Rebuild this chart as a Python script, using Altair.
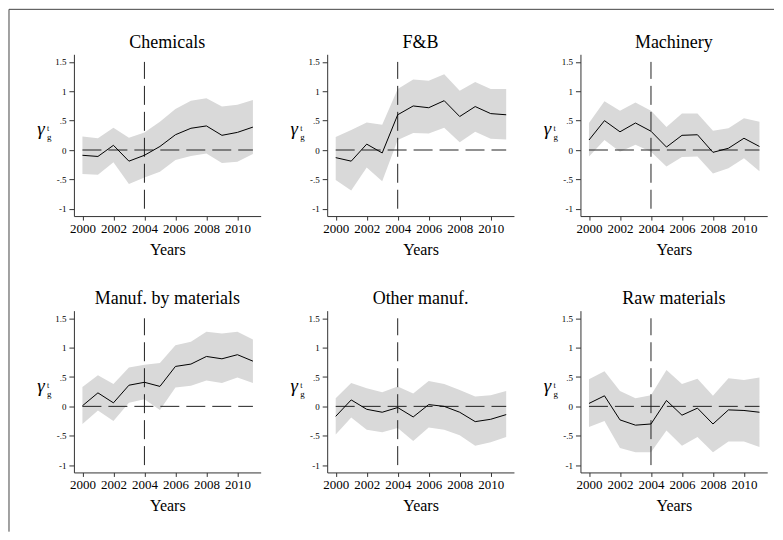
import altair as alt
import pandas as pd

# ---------------- data ----------------
years = list(range(2000, 2012))
sectors = ["Chemicals", "F&B", "Machinery", "Manuf. by materials", "Other manuf.", "Raw materials"]

chem_est = [-0.09, -0.11, 0.08, -0.19, -0.09, 0.06, 0.26, 0.37, 0.41, 0.25, 0.30, 0.39]
chem_hi = [0.23, 0.20, 0.38, 0.21, 0.30, 0.48, 0.70, 0.84, 0.88, 0.74, 0.77, 0.85]
chem_lo = [-0.41, -0.42, -0.21, -0.58, -0.47, -0.37, -0.17, -0.10, -0.06, -0.22, -0.20, -0.07]

fb_est = [-0.13, -0.19, 0.10, -0.05, 0.60, 0.75, 0.72, 0.84, 0.57, 0.74, 0.62, 0.60]
fb_hi = [0.22, 0.34, 0.47, 0.43, 1.04, 1.20, 1.18, 1.29, 1.01, 1.16, 1.04, 1.04]
fb_lo = [-0.51, -0.69, -0.30, -0.53, 0.17, 0.29, 0.28, 0.38, 0.13, 0.31, 0.19, 0.18]

mach_est = [0.17, 0.50, 0.31, 0.46, 0.32, 0.05, 0.25, 0.26, -0.04, 0.03, 0.20, 0.06]
mach_hi = [0.46, 0.83, 0.67, 0.81, 0.67, 0.39, 0.62, 0.62, 0.33, 0.37, 0.54, 0.48]
mach_lo = [-0.11, 0.17, -0.03, 0.09, -0.03, -0.28, -0.12, -0.11, -0.40, -0.31, -0.14, -0.36]

mbm_est = [0.01, 0.23, 0.06, 0.36, 0.41, 0.34, 0.68, 0.72, 0.85, 0.81, 0.88, 0.77]
mbm_hi = [0.33, 0.53, 0.38, 0.66, 0.71, 0.74, 1.04, 1.10, 1.27, 1.24, 1.27, 1.14]
mbm_lo = [-0.30, -0.07, -0.25, 0.06, 0.12, -0.06, 0.32, 0.35, 0.44, 0.40, 0.49, 0.40]

oth_est = [-0.17, 0.11, -0.05, -0.10, -0.02, -0.18, 0.03, 0.00, -0.10, -0.26, -0.22, -0.14]
oth_hi = [0.14, 0.40, 0.31, 0.24, 0.34, 0.22, 0.43, 0.38, 0.28, 0.17, 0.19, 0.26]
oth_lo = [-0.48, -0.19, -0.40, -0.44, -0.37, -0.59, -0.36, -0.40, -0.49, -0.67, -0.61, -0.52]

raw_est = [0.05, 0.18, -0.23, -0.32, -0.30, 0.10, -0.15, -0.03, -0.30, -0.06, -0.07, -0.10]
raw_hi = [0.46, 0.60, 0.26, 0.14, 0.19, 0.62, 0.38, 0.47, 0.18, 0.48, 0.45, 0.49]
raw_lo = [-0.35, -0.25, -0.71, -0.78, -0.78, -0.41, -0.67, -0.52, -0.78, -0.60, -0.60, -0.69]

series = [
    (chem_est, chem_lo, chem_hi),
    (fb_est, fb_lo, fb_hi),
    (mach_est, mach_lo, mach_hi),
    (mbm_est, mbm_lo, mbm_hi),
    (oth_est, oth_lo, oth_hi),
    (raw_est, raw_lo, raw_hi),
]

event_year = [2004]
event_span = [-1, 1.5]
zero_span = [2000, 2011]
x_ticks = [2000, 2002, 2004, 2006, 2008, 2010]
y_ticks = [-1, -0.5, 0, 0.5, 1, 1.5]
y_tick_labels = ["-1", "-.5", "0", ".5", "1", "1.5"]
x_title = "Years"

# ---------------- style ----------------
SERIF = "Liberation Serif"
W, H = 187, 162
BAND = "#d9d9d9"
AXIS = "#333333"
DASH = [19, 7]

label_expr = ""
for v, s in zip(y_ticks, y_tick_labels):
    label_expr += f"datum.value == {v} ? '{s}' : "
label_expr += "''"

xs = alt.Scale(domain=[1999.45, 2011.5], nice=False, zero=False)
ys = alt.Scale(domain=[-1.125, 1.63], nice=False, zero=False)

xaxis = alt.Axis(values=x_ticks, format="d", title=x_title, grid=False,
                 labelFont=SERIF, labelFontSize=13, labelColor="black",
                 titleFont=SERIF, titleFontSize=16, titleFontWeight="normal",
                 titleColor="black", titlePadding=6,
                 tickSize=4, labelPadding=2, domainColor=AXIS, tickColor=AXIS,
                 labelFlush=False, labelOverlap=False)
yaxis = alt.Axis(values=y_ticks, labelExpr=label_expr, title=None, grid=False,
                 labelFont=SERIF, labelFontSize=9, labelColor="black",
                 tickSize=5, labelPadding=3, domainColor=AXIS, tickColor=AXIS,
                 labelFlush=False, labelOverlap=False)


def panel(name, est, lo, hi, first=False):
    df = pd.DataFrame({"year": years, "est": est, "lo": lo, "hi": hi})
    base = alt.Chart(df)
    band = base.mark_area(color=BAND, opacity=1).encode(
        x=alt.X("year:Q", scale=xs, axis=xaxis),
        y=alt.Y("lo:Q", scale=ys, axis=yaxis),
        y2="hi:Q",
    )
    zdf = pd.DataFrame({"x0": [zero_span[0]], "x1": [zero_span[1]], "y0": [0]})
    zero = alt.Chart(zdf).mark_rule(color="#222222", strokeWidth=1, strokeDash=DASH).encode(
        x=alt.X("x0:Q", scale=xs, axis=xaxis), x2="x1:Q",
        y=alt.Y("y0:Q", scale=ys, axis=yaxis),
    )
    vdf = pd.DataFrame({"x0": event_year, "y0": [event_span[0]], "y1": [event_span[1]]})
    vline = alt.Chart(vdf).mark_rule(color="#222222", strokeWidth=1, strokeDash=DASH).encode(
        x=alt.X("x0:Q", scale=xs, axis=xaxis),
        y=alt.Y("y0:Q", scale=ys, axis=yaxis), y2="y1:Q",
    )
    line = base.mark_line(color="black", strokeWidth=1).encode(
        x=alt.X("year:Q", scale=xs, axis=xaxis),
        y=alt.Y("est:Q", scale=ys, axis=yaxis),
    )
    one = pd.DataFrame({"t": [name]})
    title = alt.Chart(one).mark_text(font=SERIF, fontSize=18, align="center",
                                     baseline="alphabetic", color="black").encode(
        x=alt.value(W / 2), y=alt.value(-6.6), text="t:N")
    gam = alt.Chart(pd.DataFrame({"t": ["γ"]})).mark_text(
        font=SERIF, fontSize=19, fontStyle="italic", align="center",
        baseline="alphabetic", color="black").encode(
        x=alt.value(-33), y=alt.value(81), text="t:N")
    sup = alt.Chart(pd.DataFrame({"t": ["t"]})).mark_text(
        font=SERIF, fontSize=8, align="center", baseline="alphabetic", color="black").encode(
        x=alt.value(-25.8), y=alt.value(77.2), text="t:N")
    sub = alt.Chart(pd.DataFrame({"t": ["g"]})).mark_text(
        font=SERIF, fontSize=9, align="center", baseline="alphabetic", color="black").encode(
        x=alt.value(-24.8), y=alt.value(86), text="t:N")
    layers = [band, zero, vline, line, title, gam, sup, sub]
    if first:
        fdf = pd.DataFrame({"k": [0]})
        fl = alt.Chart(fdf).mark_rule(color="#444444", strokeWidth=1).encode(
            x=alt.value(-65), y=alt.value(-45), y2=alt.value(478))
        ft = alt.Chart(fdf).mark_rule(color="#444444", strokeWidth=1).encode(
            x=alt.value(-65), x2=alt.value(701), y=alt.value(-45))
        layers += [fl, ft]
    return alt.layer(*layers).properties(width=W, height=H)


panels = [panel(n, *s, first=(i == 0)) for i, (n, s) in enumerate(zip(sectors, series))]

chart = alt.concat(*panels, columns=3, spacing={"row": 94.7, "column": 66.6},
                   bounds="flush").properties(padding=0).configure_view(stroke=None)

chart.save("out.html", embed_options={"renderer": "svg", "actions": False})
